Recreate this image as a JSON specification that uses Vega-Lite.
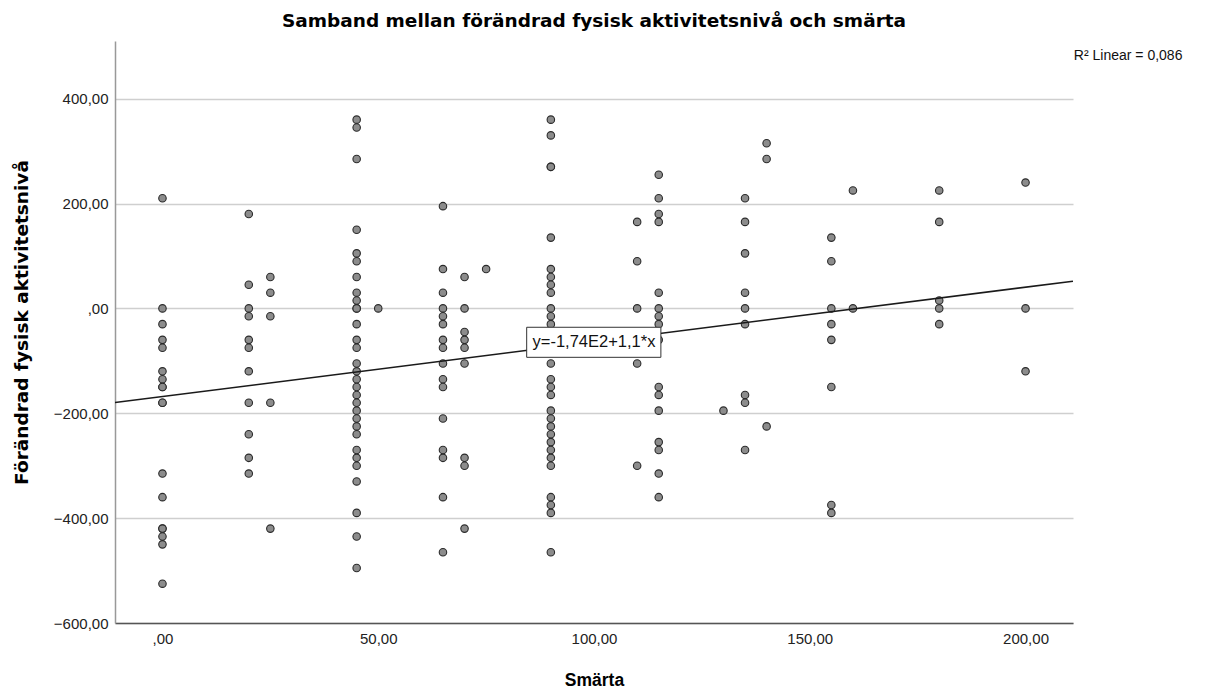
{
  "$schema": "https://vega.github.io/schema/vega-lite/v6.json",
  "autosize": {"type": "none"},
  "width": 958,
  "height": 582,
  "padding": {"left": 115, "top": 41, "right": 132, "bottom": 70},
  "background": "white",
  "config": {
    "font": "Liberation Sans",
    "view": {"stroke": null}
  },
  "title": {
    "text": "Samband mellan förändrad fysisk aktivitetsnivå och smärta",
    "font": "DejaVu Sans",
    "fontSize": 18.5,
    "fontWeight": "bold",
    "color": "#000000",
    "anchor": "middle",
    "offset": 11
  },
  "datasets": {
    "points": [
      {"smarta": 0, "aktivitet": 210}, {"smarta": 0, "aktivitet": 0}, {"smarta": 0, "aktivitet": -30}, {"smarta": 0, "aktivitet": -60}, {"smarta": 0, "aktivitet": -75}, {"smarta": 0, "aktivitet": -120}, {"smarta": 0, "aktivitet": -135}, {"smarta": 0, "aktivitet": -150}, {"smarta": 0, "aktivitet": -150}, {"smarta": 0, "aktivitet": -180}, {"smarta": 0, "aktivitet": -180}, {"smarta": 0, "aktivitet": -315}, {"smarta": 0, "aktivitet": -360}, {"smarta": 0, "aktivitet": -420}, {"smarta": 0, "aktivitet": -420}, {"smarta": 0, "aktivitet": -435}, {"smarta": 0, "aktivitet": -450}, {"smarta": 0, "aktivitet": -525},
      {"smarta": 20, "aktivitet": 180}, {"smarta": 20, "aktivitet": 45}, {"smarta": 20, "aktivitet": 0}, {"smarta": 20, "aktivitet": -15}, {"smarta": 20, "aktivitet": -60}, {"smarta": 20, "aktivitet": -75}, {"smarta": 20, "aktivitet": -120}, {"smarta": 20, "aktivitet": -180}, {"smarta": 20, "aktivitet": -240}, {"smarta": 20, "aktivitet": -285}, {"smarta": 20, "aktivitet": -315},
      {"smarta": 25, "aktivitet": 60}, {"smarta": 25, "aktivitet": 30}, {"smarta": 25, "aktivitet": -15}, {"smarta": 25, "aktivitet": -180}, {"smarta": 25, "aktivitet": -420},
      {"smarta": 45, "aktivitet": 360}, {"smarta": 45, "aktivitet": 345}, {"smarta": 45, "aktivitet": 285}, {"smarta": 45, "aktivitet": 150}, {"smarta": 45, "aktivitet": 105}, {"smarta": 45, "aktivitet": 90}, {"smarta": 45, "aktivitet": 60}, {"smarta": 45, "aktivitet": 30}, {"smarta": 45, "aktivitet": 15}, {"smarta": 45, "aktivitet": 0}, {"smarta": 45, "aktivitet": 0}, {"smarta": 45, "aktivitet": -30}, {"smarta": 45, "aktivitet": -60}, {"smarta": 45, "aktivitet": -75}, {"smarta": 45, "aktivitet": -105}, {"smarta": 45, "aktivitet": -120}, {"smarta": 45, "aktivitet": -135}, {"smarta": 45, "aktivitet": -150}, {"smarta": 45, "aktivitet": -165}, {"smarta": 45, "aktivitet": -180}, {"smarta": 45, "aktivitet": -195}, {"smarta": 45, "aktivitet": -210}, {"smarta": 45, "aktivitet": -225}, {"smarta": 45, "aktivitet": -240}, {"smarta": 45, "aktivitet": -270}, {"smarta": 45, "aktivitet": -285}, {"smarta": 45, "aktivitet": -300}, {"smarta": 45, "aktivitet": -330}, {"smarta": 45, "aktivitet": -390}, {"smarta": 45, "aktivitet": -435}, {"smarta": 45, "aktivitet": -495},
      {"smarta": 50, "aktivitet": 0},
      {"smarta": 65, "aktivitet": 195}, {"smarta": 65, "aktivitet": 75}, {"smarta": 65, "aktivitet": 30}, {"smarta": 65, "aktivitet": 0}, {"smarta": 65, "aktivitet": -15}, {"smarta": 65, "aktivitet": -30}, {"smarta": 65, "aktivitet": -60}, {"smarta": 65, "aktivitet": -75}, {"smarta": 65, "aktivitet": -105}, {"smarta": 65, "aktivitet": -135}, {"smarta": 65, "aktivitet": -150}, {"smarta": 65, "aktivitet": -210}, {"smarta": 65, "aktivitet": -270}, {"smarta": 65, "aktivitet": -285}, {"smarta": 65, "aktivitet": -360}, {"smarta": 65, "aktivitet": -465},
      {"smarta": 70, "aktivitet": 60}, {"smarta": 70, "aktivitet": 0}, {"smarta": 70, "aktivitet": -45}, {"smarta": 70, "aktivitet": -60}, {"smarta": 70, "aktivitet": -75}, {"smarta": 70, "aktivitet": -105}, {"smarta": 70, "aktivitet": -285}, {"smarta": 70, "aktivitet": -300}, {"smarta": 70, "aktivitet": -420},
      {"smarta": 75, "aktivitet": 75},
      {"smarta": 90, "aktivitet": 360}, {"smarta": 90, "aktivitet": 330}, {"smarta": 90, "aktivitet": 270}, {"smarta": 90, "aktivitet": 270}, {"smarta": 90, "aktivitet": 135}, {"smarta": 90, "aktivitet": 75}, {"smarta": 90, "aktivitet": 60}, {"smarta": 90, "aktivitet": 45}, {"smarta": 90, "aktivitet": 30}, {"smarta": 90, "aktivitet": 0}, {"smarta": 90, "aktivitet": -15}, {"smarta": 90, "aktivitet": -30}, {"smarta": 90, "aktivitet": -60}, {"smarta": 90, "aktivitet": -75}, {"smarta": 90, "aktivitet": -105}, {"smarta": 90, "aktivitet": -135}, {"smarta": 90, "aktivitet": -150}, {"smarta": 90, "aktivitet": -165}, {"smarta": 90, "aktivitet": -195}, {"smarta": 90, "aktivitet": -210}, {"smarta": 90, "aktivitet": -225}, {"smarta": 90, "aktivitet": -240}, {"smarta": 90, "aktivitet": -255}, {"smarta": 90, "aktivitet": -270}, {"smarta": 90, "aktivitet": -285}, {"smarta": 90, "aktivitet": -300}, {"smarta": 90, "aktivitet": -360}, {"smarta": 90, "aktivitet": -375}, {"smarta": 90, "aktivitet": -390}, {"smarta": 90, "aktivitet": -465},
      {"smarta": 110, "aktivitet": 165}, {"smarta": 110, "aktivitet": 90}, {"smarta": 110, "aktivitet": 0}, {"smarta": 110, "aktivitet": -105}, {"smarta": 110, "aktivitet": -300},
      {"smarta": 115, "aktivitet": 255}, {"smarta": 115, "aktivitet": 210}, {"smarta": 115, "aktivitet": 180}, {"smarta": 115, "aktivitet": 165}, {"smarta": 115, "aktivitet": 30}, {"smarta": 115, "aktivitet": 0}, {"smarta": 115, "aktivitet": -15}, {"smarta": 115, "aktivitet": -30}, {"smarta": 115, "aktivitet": -60}, {"smarta": 115, "aktivitet": -150}, {"smarta": 115, "aktivitet": -165}, {"smarta": 115, "aktivitet": -195}, {"smarta": 115, "aktivitet": -255}, {"smarta": 115, "aktivitet": -270}, {"smarta": 115, "aktivitet": -315}, {"smarta": 115, "aktivitet": -360},
      {"smarta": 130, "aktivitet": -195},
      {"smarta": 135, "aktivitet": 210}, {"smarta": 135, "aktivitet": 165}, {"smarta": 135, "aktivitet": 105}, {"smarta": 135, "aktivitet": 30}, {"smarta": 135, "aktivitet": 0}, {"smarta": 135, "aktivitet": -30}, {"smarta": 135, "aktivitet": -165}, {"smarta": 135, "aktivitet": -180}, {"smarta": 135, "aktivitet": -270},
      {"smarta": 140, "aktivitet": 315}, {"smarta": 140, "aktivitet": 285}, {"smarta": 140, "aktivitet": -225},
      {"smarta": 155, "aktivitet": 135}, {"smarta": 155, "aktivitet": 90}, {"smarta": 155, "aktivitet": 0}, {"smarta": 155, "aktivitet": -30}, {"smarta": 155, "aktivitet": -60}, {"smarta": 155, "aktivitet": -150}, {"smarta": 155, "aktivitet": -375}, {"smarta": 155, "aktivitet": -390},
      {"smarta": 160, "aktivitet": 225}, {"smarta": 160, "aktivitet": 0},
      {"smarta": 180, "aktivitet": 225}, {"smarta": 180, "aktivitet": 165}, {"smarta": 180, "aktivitet": 15}, {"smarta": 180, "aktivitet": 0}, {"smarta": 180, "aktivitet": -30},
      {"smarta": 200, "aktivitet": 240}, {"smarta": 200, "aktivitet": 0}, {"smarta": 200, "aktivitet": -120}
    ]
  },
  "layer": [
    {
      "data": {"name": "points"},
      "mark": {"type": "circle", "size": 56, "fill": "#8c8c8c", "fillOpacity": 1, "stroke": "#2a2a2a", "strokeWidth": 1.1, "opacity": 1},
      "encoding": {
        "x": {
          "field": "smarta",
          "type": "quantitative",
          "scale": {"domain": [-11, 211], "nice": false, "zero": false},
          "axis": {
            "title": "Smärta",
            "values": [0, 50, 100, 150, 200],
            "labelExpr": "datum.value == 0 ? ',00' : replace(format(datum.value, '.2f'), '.', ',')",
            "grid": false,
            "ticks": false,
            "domainColor": "#555555",
            "domainWidth": 1.5,
            "labelFont": "Liberation Sans",
            "labelFontSize": 15,
            "labelColor": "#222222",
            "labelPadding": 8,
            "titleFont": "Liberation Sans",
            "titleFontSize": 17.5,
            "titleFontWeight": "bold",
            "titleColor": "#000000",
            "titlePadding": 25
          }
        },
        "y": {
          "field": "aktivitet",
          "type": "quantitative",
          "scale": {"domain": [-600, 510], "nice": false, "zero": false},
          "axis": {
            "title": "Förändrad fysisk aktivitetsnivå",
            "values": [-600, -400, -200, 0, 200, 400],
            "labelExpr": "datum.value == 0 ? ',00' : replace(format(datum.value, '.2f'), '.', ',')",
            "grid": true,
            "gridColor": "#cfcfcf",
            "gridWidth": 1.5,
            "ticks": false,
            "domainColor": "#999999",
            "domainWidth": 1.5,
            "labelFont": "Liberation Sans",
            "labelFontSize": 15,
            "labelColor": "#222222",
            "labelPadding": 7,
            "titleFont": "DejaVu Sans",
            "titleFontSize": 18.5,
            "titleFontWeight": "bold",
            "titleColor": "#000000",
            "titlePadding": 22,
            "titleY": 281
          }
        }
      }
    },
    {
      "data": {"name": "points"},
      "transform": [
        {"regression": "aktivitet", "on": "smarta", "method": "linear", "extent": [-11, 211]}
      ],
      "mark": {"type": "line", "color": "#1a1a1a", "strokeWidth": 1.5, "clip": true},
      "encoding": {
        "x": {"field": "smarta", "type": "quantitative"},
        "y": {"field": "aktivitet", "type": "quantitative"}
      }
    },
    {
      "data": {"values": [{"x0": 84.4, "x1": 115.5, "y0": -36, "y1": -93.3}]},
      "mark": {"type": "rect", "fill": "white", "stroke": "#333333", "strokeWidth": 1},
      "encoding": {
        "x": {"field": "x0", "type": "quantitative"},
        "x2": {"field": "x1"},
        "y": {"field": "y0", "type": "quantitative"},
        "y2": {"field": "y1"}
      }
    },
    {
      "data": {"values": [{"xm": 100, "ym": -64, "label": "y=-1,74E2+1,1*x"}]},
      "mark": {"type": "text", "font": "Liberation Sans", "fontSize": 16.5, "color": "#111111", "align": "center", "baseline": "middle"},
      "encoding": {
        "x": {"field": "xm", "type": "quantitative"},
        "y": {"field": "ym", "type": "quantitative"},
        "text": {"field": "label"}
      }
    },
    {
      "data": {"values": [{"xr": 211.2, "yr": 482, "label": "R² Linear = 0,086"}]},
      "mark": {"type": "text", "font": "Liberation Sans", "fontSize": 14, "color": "#111111", "align": "left", "baseline": "middle", "clip": false},
      "encoding": {
        "x": {"field": "xr", "type": "quantitative"},
        "y": {"field": "yr", "type": "quantitative"},
        "text": {"field": "label"}
      }
    }
  ]
}
